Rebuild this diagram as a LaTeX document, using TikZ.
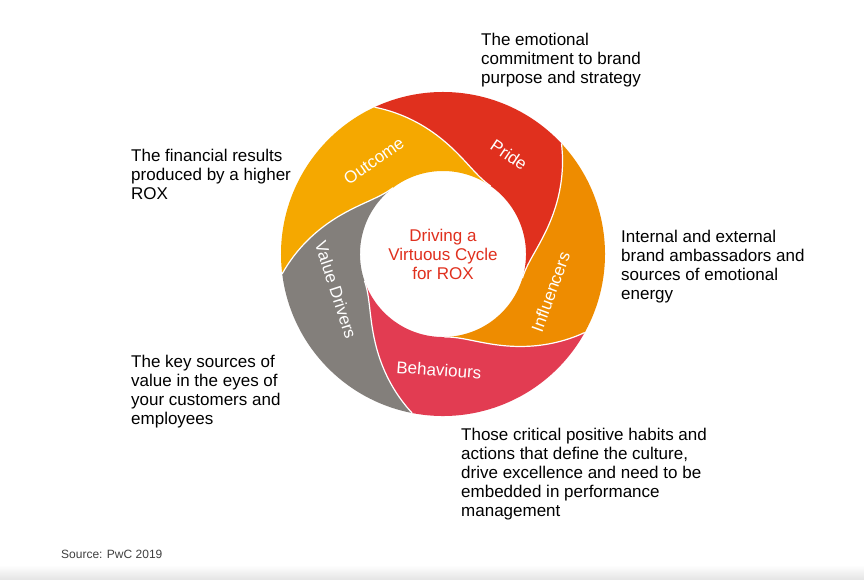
\documentclass[tikz,border=0pt]{standalone}
\usepackage{fontspec}
\setmainfont{Liberation Sans}
\definecolor{cOut}{HTML}{F5A800}
\definecolor{cPride}{HTML}{E0301E}
\definecolor{cInf}{HTML}{EE8C00}
\definecolor{cBeh}{HTML}{E23C52}
\definecolor{cVal}{HTML}{837F7B}
\definecolor{cSrc}{HTML}{404040}
\begin{document}
\begin{tikzpicture}[x=1pt,y=1pt,
  desc/.style={anchor=north west, align=left, font=\fontsize{17}{19}\selectfont, text=black, inner sep=0pt},
  seglabel/.style={text=white, font=\fontsize{17}{19}\selectfont, inner sep=0pt},
  boundary/.style={white, line width=1.2}]
\useasboundingbox (0,0) rectangle (864,579);
\fill[white] (0,0) rectangle (864,579);
\shade[top color=white, bottom color=black!10] (0,0) rectangle (864,14);
\def\Ro{162}
\def\Ri{83}
\begin{scope}[shift={(443,325)}]
  \foreach \a/\c in {115/cOut, 43/cPride, -29/cInf, -101/cBeh, -173/cVal} {
    \fill[\c] ({\a+72}:\Ro) arc[start angle=\a+72, end angle=\a, radius=\Ro]
      -- plot[domain=0:1, samples=40, variable=\t] ({\a-60*\t}:{\Ro-(\Ro-\Ri)*sin(90*\t)})
      arc[start angle=\a-60, end angle=\a+12, radius=\Ri]
      -- plot[domain=1:0, samples=40, variable=\t] ({\a+72-60*\t}:{\Ro-(\Ro-\Ri)*sin(90*\t)})
      -- cycle;
  }
  \foreach \a in {115,43,-29,-101,-173} {
    \draw[boundary] plot[domain=0:1, samples=40, variable=\t] ({\a-60*\t}:{\Ro-(\Ro-\Ri)*sin(90*\t)});
  }
  \node[seglabel, rotate=35] (lOut) at (126.6:116) {Outcome};
  \node[seglabel, rotate=-34] (lPride) at (56.3:119) {Pride};
  \node[seglabel, rotate=70] (lInf) at (-19.4:114) {Influencers};
  \node[seglabel, rotate=-4] (lBeh) at (-92:116) {Behaviours};
  \node[seglabel, rotate=-72] (lVal) at (198.6:113) {Value Drivers};
  \node[align=center, text=cPride, font=\fontsize{17}{19}\selectfont, inner sep=0pt] (center) at (0,0) {Driving a\\Virtuous Cycle\\for ROX};
\end{scope}
\node[desc] (dPride) at (481,546.4) {The emotional\\commitment to brand\\purpose and strategy};
\node[desc] (dOut) at (131,430.4) {The financial results\\produced by a higher\\ROX};
\node[desc] (dInf) at (621,349.4) {Internal and external\\brand ambassadors and\\sources of emotional\\energy};
\node[desc] (dVal) at (131,224.4) {The key sources of\\value in the eyes of\\your customers and\\employees};
\node[desc] (dBeh) at (461,151.4) {Those critical positive habits and\\actions that define the culture,\\drive excellence and need to be\\embedded in performance\\management};
\node[anchor=base west, inner sep=0pt, text=cSrc, font=\fontsize{12}{14}\selectfont] (src) at (61,21) {Source: PwC 2019};
\end{tikzpicture}
\end{document}
